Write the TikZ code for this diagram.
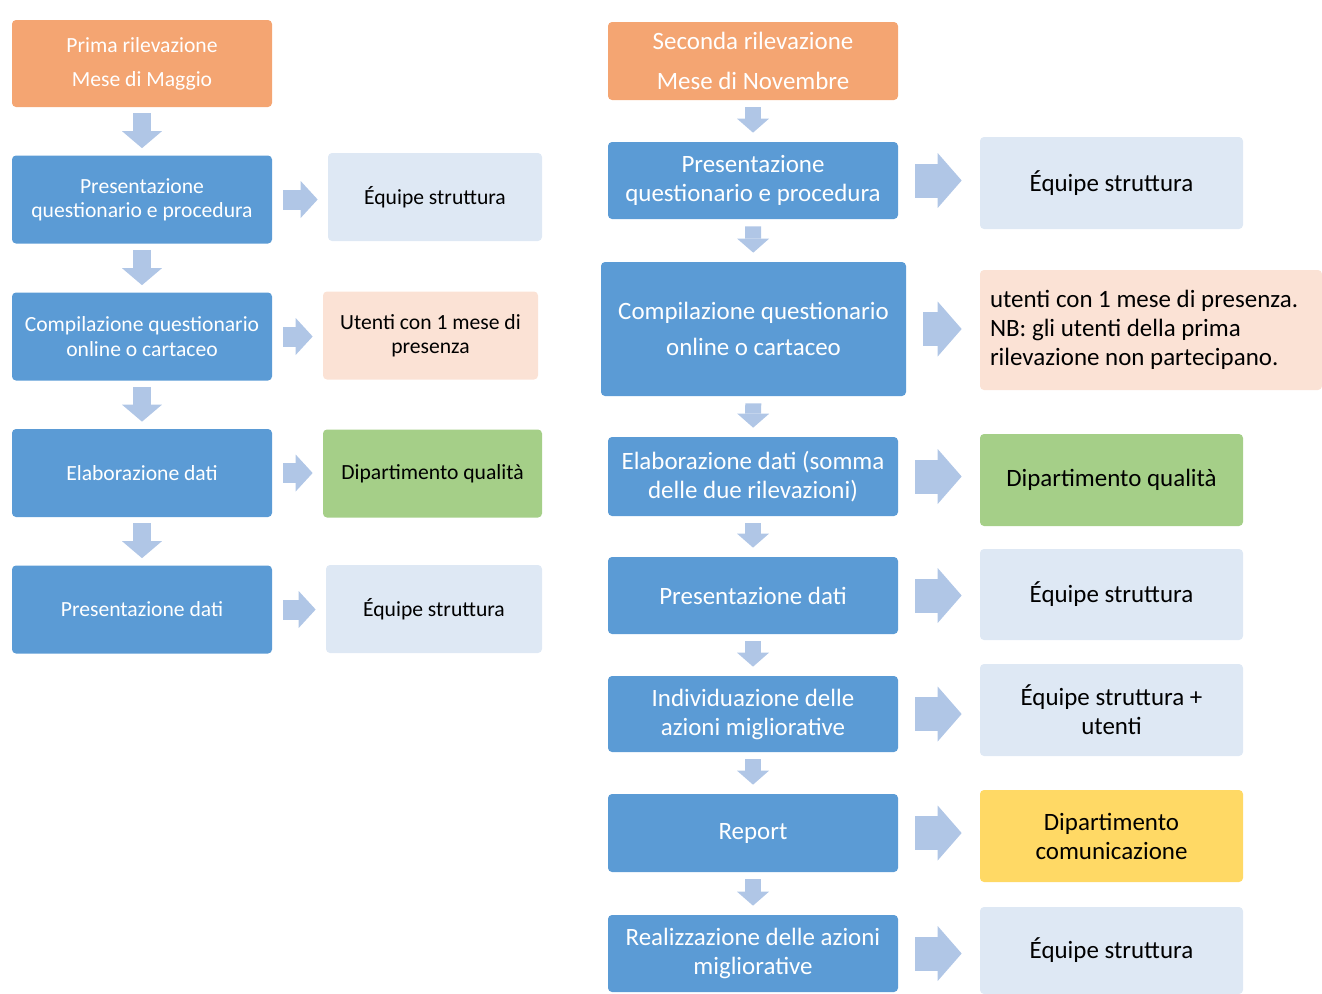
\documentclass[tikz,border=0pt]{standalone}
\usepackage{fontspec}
\setmainfont{Carlito}
\usetikzlibrary{arrows.meta}

\definecolor{stepblue}{HTML}{5B9BD5}
\definecolor{startorange}{HTML}{F4A572}
\definecolor{notepale}{HTML}{DEE8F4}
\definecolor{notepeach}{HTML}{FBE2D5}
\definecolor{notegreen}{HTML}{A5CF88}
\definecolor{noteyellow}{HTML}{FFD965}
\definecolor{flowblue}{HTML}{B0C6E6}
\newdimen\px \px=0.02cm

\begin{document}
\begin{tikzpicture}[
    x=0.02cm, y=-0.02cm,
    lstep/.style={fill=stepblue, text=white, rounded corners=4\px, minimum width=260\px, minimum height=88\px, align=center, font=\fontsize{12.3}{13.8}\selectfont},
    lnote/.style={rounded corners=4\px, minimum width=216\px, minimum height=88\px, align=center, font=\fontsize{12.3}{13.8}\selectfont},
    rstep/.style={fill=stepblue, text=white, rounded corners=4\px, minimum width=290\px, minimum height=78\px, align=center, font=\fontsize{14.2}{16.5}\selectfont},
    rnote/.style={rounded corners=4\px, minimum width=263\px, minimum height=92\px, align=center, font=\fontsize{14.2}{16.5}\selectfont},
    ldown/.style={draw=flowblue, line width=18\px, -{Triangle[length=0.34cm, width=0.8cm, line width=0pt]}, shorten <=6\px, shorten >=7\px},
    lright/.style={draw=flowblue, line width=20\px, -{Triangle[length=0.34cm, width=0.74cm, line width=0pt]}, shorten <=11\px, shorten >=10\px},
    rdown/.style={draw=flowblue, line width=16\px, -{Triangle[length=0.28cm, width=0.64cm, line width=0pt]}, shorten <=7\px, shorten >=9\px},
    rright/.style={draw=flowblue, line width=34\px, -{Triangle[length=0.48cm, width=1.1cm, line width=0pt]}, shorten <=17\px, shorten >=18\px}
]
\useasboundingbox (0,0) rectangle (1322,994);

% First survey (left column)
\node[lstep, fill=startorange, minimum height=87\px] (lstart) at (142,63.5) {Prima rilevazione\\[5.7pt]Mese di Maggio};
\node[lstep] (lpres) at (142,199.5) {Presentazione\\questionario e procedura};
\node[lstep] (lcomp) at (142,336.5) {Compilazione questionario\\online o cartaceo};
\node[lstep] (lelab) at (142,473) {Elaborazione dati};
\node[lstep] (ldati) at (142,609.5) {Presentazione dati};

\node[lnote, fill=notepale, minimum width=214\px] (lequipe) at (435,197) {Équipe struttura};
\node[lnote, fill=notepeach, minimum width=215\px] (lutenti) at (430.5,335.5) {Utenti con 1 mese di\\presenza};
\node[lnote, fill=notegreen, minimum width=219\px] (lqual) at (432.5,473.5) {Dipartimento qualità};
\node[lnote, fill=notepale] (lequipeb) at (434,609) {Équipe struttura};

\foreach \a/\b in {lstart/lpres, lpres/lcomp, lcomp/lelab, lelab/ldati}
    \draw[ldown] (\a) -- (\b);
\foreach \a/\b in {lpres/lequipe, lcomp/lutenti, lelab/lqual, ldati/lequipeb}
    \draw[lright] (\a.east) -- (\a.east -| \b.west);

% Second survey (right column)
\node[rstep, fill=startorange] (rstart) at (753,61) {Seconda rilevazione\\[6pt]Mese di Novembre};
\node[rstep, minimum height=77\px] (rpres) at (753,180.5) {Presentazione\\questionario e procedura};
\node[rstep, minimum width=305\px, minimum height=134\px] (rcomp) at (753.5,329) {Compilazione questionario\\[4pt]online o cartaceo};
\node[rstep, minimum height=79\px] (relab) at (753,476.5) {Elaborazione dati (somma\\delle due rilevazioni)};
\node[rstep, minimum height=77\px] (rdati) at (753,595.5) {Presentazione dati};
\node[rstep, minimum height=76\px] (razioni) at (753,714) {Individuazione delle\\azioni migliorative};
\node[rstep] (rreport) at (753,833) {Report};
\node[rstep, minimum height=77\px] (rreal) at (753,953.5) {Realizzazione delle azioni\\migliorative};

\node[rnote, fill=notepale] (requipe) at (1111.5,183) {Équipe struttura};
\node[rnote, fill=notepeach, align=flush left, text width=322\px, inner xsep=10\px, minimum height=120\px] (rutenti) at (1151,330) {utenti con 1 mese di presenza.\\NB: gli utenti della prima\\rilevazione non partecipano.};
\node[rnote, fill=notegreen] (rqual) at (1111.5,480) {Dipartimento qualità};
\node[rnote, fill=notepale, minimum height=91\px] (requipeb) at (1111.5,594.5) {Équipe struttura};
\node[rnote, fill=notepale] (requipeu) at (1111.5,710) {Équipe struttura +\\utenti};
\node[rnote, fill=noteyellow] (rcomun) at (1111.5,836) {Dipartimento\\comunicazione};
\node[rnote, fill=notepale, minimum height=87\px] (requipec) at (1111.5,950.5) {Équipe struttura};

\foreach \a/\b in {rstart/rpres, rpres/rcomp, rcomp/relab, relab/rdati, rdati/razioni, razioni/rreport, rreport/rreal}
    \draw[rdown] (\a) -- (\b);
\foreach \a/\b in {rpres/requipe, rcomp/rutenti, relab/rqual, rdati/requipeb, razioni/requipeu, rreport/rcomun, rreal/requipec}
    \draw[rright] (\a.east) -- (\a.east -| \b.west);
\end{tikzpicture}
\end{document}
